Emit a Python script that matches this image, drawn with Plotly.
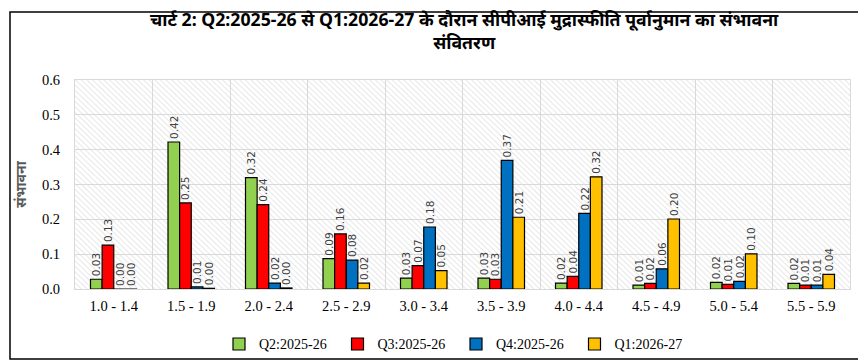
import base64
import plotly.graph_objects as go

categories = ["1.0 - 1.4", "1.5 - 1.9", "2.0 - 2.4", "2.5 - 2.9", "3.0 - 3.4",
              "3.5 - 3.9", "4.0 - 4.4", "4.5 - 4.9", "5.0 - 5.4", "5.5 - 5.9"]
series_names = ["Q2:2025-26", "Q3:2025-26", "Q4:2025-26", "Q1:2026-27"]
q2_2025 = [0.028, 0.422, 0.320, 0.087, 0.031, 0.031, 0.017, 0.011, 0.019, 0.016]
q3_2025 = [0.126, 0.247, 0.242, 0.158, 0.067, 0.028, 0.036, 0.016, 0.013, 0.011]
q4_2025 = [0.000, 0.006, 0.017, 0.083, 0.178, 0.369, 0.217, 0.058, 0.022, 0.011]
q1_2026 = [0.000, 0.002, 0.003, 0.017, 0.053, 0.206, 0.322, 0.201, 0.101, 0.042]
y_ticks = [0.0, 0.1, 0.2, 0.3, 0.4, 0.5, 0.6]
title_text = "चार्ट 2: Q2:2025-26 से Q1:2026-27 के दौरान सीपीआई मुद्रास्फीति पूर्वानुमान का संभावना<br>संवितरण"
y_title = "संभावना"

series_values = [q2_2025, q3_2025, q4_2025, q1_2026]
colors = ["#92D050", "#FF0000", "#0070C0", "#FFC000"]

x_pos = list(range(len(categories)))

fig = go.Figure()
for name, vals, col in zip(series_names, series_values, colors):
    fig.add_trace(go.Bar(
        x=x_pos, y=vals, name=name,
        marker=dict(color=col, line=dict(color="#000000", width=1.2)),
        texttemplate="%{y:.2f}", textposition="outside", textangle=-90,
        constraintext="none", cliponaxis=False,
        textfont=dict(family="DejaVu Sans", size=10.5, color="#404040"),
        hoverinfo="skip",
    ))

# hatched plot-area background (SVG pattern)
W, H = 775, 215
svg = (
    f'<svg xmlns="http://www.w3.org/2000/svg" width="{W}" height="{H}">'
    '<defs><pattern id="p" width="4" height="4" patternUnits="userSpaceOnUse" '
    'patternTransform="rotate(-45)">'
    '<line x1="0" y1="0" x2="0" y2="4" stroke="#d6d6d6" stroke-width="1.2"/>'
    '</pattern></defs>'
    f'<rect width="{W}" height="{H}" fill="#ffffff"/>'
    f'<rect width="{W}" height="{H}" fill="url(#p)"/></svg>'
)
src = "data:image/svg+xml;base64," + base64.b64encode(svg.encode()).decode()
fig.add_layout_image(dict(source=src, xref="x domain", yref="y domain",
                          x=0, y=1, sizex=1, sizey=1, sizing="stretch",
                          xanchor="left", yanchor="top", layer="below"))

grid = "#d9d9d9"
serif = "Liberation Serif, DejaVu Serif, serif"
fig.update_layout(
    width=866, height=364,
    margin=dict(l=67, r=24, t=72, b=77),
    paper_bgcolor="#ffffff", plot_bgcolor="rgba(0,0,0,0)",
    barmode="group", bargap=0.40, bargroupgap=0.0,
    xaxis=dict(
        range=[-0.5, len(categories) - 0.5],
        tickvals=x_pos, ticktext=categories,
        showgrid=False, zeroline=False,
        showline=True, linecolor=grid, linewidth=1, mirror=True,
        ticks="", ticklabelstandoff=4,
        tickfont=dict(family=serif, size=14.5, color="#000000"),
        minor=dict(tick0=-0.5, dtick=1, showgrid=True, gridcolor=grid, gridwidth=1),
    ),
    yaxis=dict(
        range=[0, 0.6], tickvals=y_ticks, tickformat=".1f",
        showgrid=True, gridcolor=grid, gridwidth=1, zeroline=False,
        showline=True, linecolor=grid, linewidth=1, mirror=True,
        ticks="", ticklabelstandoff=11,
        tickfont=dict(family=serif, size=14.5, color="#000000"),
        title=dict(text=f"<b>{y_title}</b>", standoff=12,
                   font=dict(family="Noto Sans, sans-serif", size=14, color="#595959")),
    ),
    legend=dict(
        orientation="h", x=(211 - 67) / 775, xanchor="left", y=-0.265, yanchor="middle",
        font=dict(family=serif, size=14, color="#000000"),
        entrywidth=73.5, entrywidthmode="pixels", itemwidth=30,
        bgcolor="rgba(0,0,0,0)",
    ),
    showlegend=True,
)

fig.add_annotation(
    text=f"<b>{title_text}</b>", xref="paper", yref="paper",
    x=(457 - 67) / 775, xanchor="center", y=(287 - 21) / 215, yanchor="middle",
    showarrow=False, align="center",
    font=dict(family="Noto Sans, sans-serif", size=17.7, color="#000000"),
)

# outer chart border
fig.add_shape(type="rect", xref="paper", yref="paper",
              x0=(2 - 67) / 775, x1=(862 - 67) / 775,
              y0=(287 - 359) / 215, y1=(287 - 2) / 215,
              line=dict(color="#000000", width=1.5), fillcolor="rgba(0,0,0,0)", layer="above")

fig.write_html("out.html")
